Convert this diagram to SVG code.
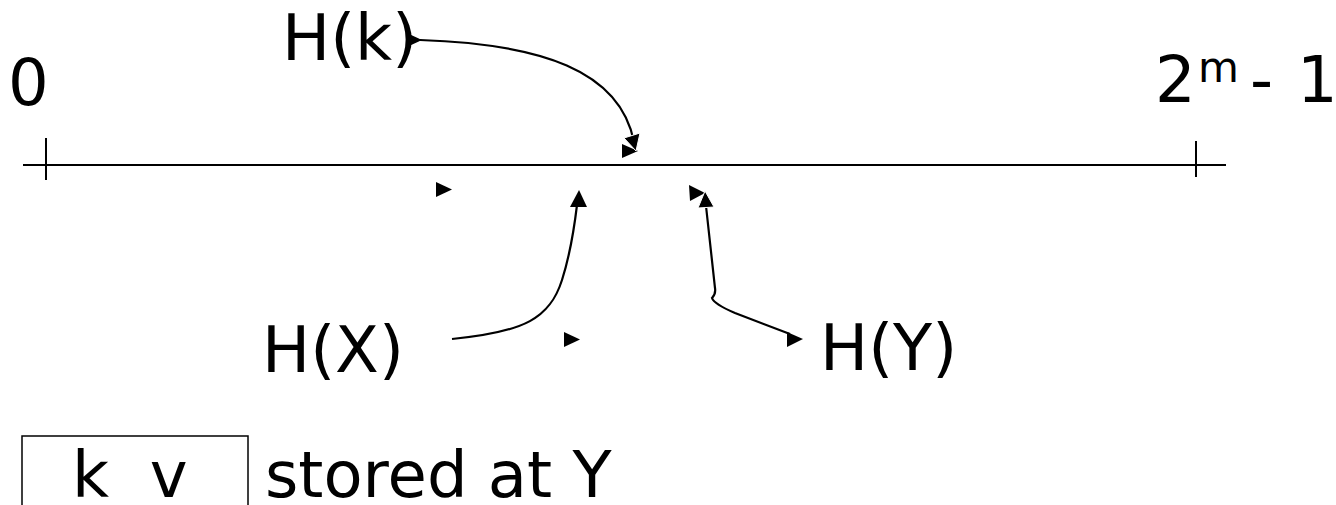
<svg xmlns="http://www.w3.org/2000/svg" width="1336" height="505" viewBox="0 0 1336 505">
  <style>
    .lbl { font-family: "DejaVu Sans", Verdana, sans-serif; font-size: 64px; fill: #000; }
    .sup { font-family: "DejaVu Sans", Verdana, sans-serif; font-size: 42px; fill: #000; }
    .axis { stroke: #000; stroke-width: 2; fill: none; }
    .conn { stroke: #000; stroke-width: 2.2; fill: none; }
    .head { fill: #000; }
    .headcut { fill: #000; stroke: #fff; stroke-width: 1; }
  </style>

  <!-- identifier ring drawn as a line from 0 to 2^m - 1 -->
  <g id="axis">
    <line class="axis" x1="23" y1="165" x2="1226" y2="165"/>
    <line class="axis" x1="46" y1="138" x2="46" y2="180"/>
    <line class="axis" x1="1196" y1="141" x2="1196" y2="177"/>
  </g>

  <g id="label-zero">
    <text class="lbl" x="8" y="105">0</text>
  </g>

  <g id="label-max">
    <text class="lbl" x="1155" y="102">2</text>
    <text class="sup" x="1198" y="82">m</text>
    <text class="lbl" x="1250" y="102">-</text>
    <text class="lbl" x="1297" y="102">1</text>
  </g>

  <g id="node-hk">
    <text class="lbl" x="282" y="60">H(k)</text>
  </g>

  <g id="node-hx">
    <text class="lbl" x="262" y="372">H(X)</text>
  </g>

  <g id="node-hy">
    <text class="lbl" x="820" y="370">H(Y)</text>
  </g>

  <g id="node-kv">
    <rect x="22" y="436" width="226" height="80" fill="none" stroke="#000" stroke-width="1.5"/>
    <text class="lbl" x="72" y="497" style="white-space:pre">k  v</text>
    <text class="lbl" x="265" y="497">stored at Y</text>
  </g>

  <g id="connectors">
    <!-- H(k) to its point on the line -->
    <path class="conn" d="M420,40 C540,44 620,70 634,142"/>
    <polygon class="head" points="409,34 422,40 409,46"/>
    <polygon class="head" points="622,144 638,151 622,158"/>
    <polygon class="headcut" points="636,151 624,138 640,133"/>

    <!-- H(X) up to its point on the line -->
    <path class="conn" d="M452,339 C525,332 550,318 562,280 C570,255 574,230 577,205"/>
    <polygon class="head" points="579,190 570,207 587,207"/>

    <!-- H(Y) up to its point on the line -->
    <path class="conn" d="M706,206 L715,288 Q716,294 712,298 Q714,304 735,313 L790,334"/>
    <polygon class="head" points="787,332 803,339 787,347"/>
    <polygon class="head" points="689,185 705,193 690,201"/>
    <polygon class="headcut" points="705,191 698,208 714,207"/>

    <!-- loose arrowheads along the line -->
    <polygon class="head" points="436,182 452,189.5 436,197"/>
    <polygon class="head" points="564,332 580,339.5 564,347"/>
  </g>
</svg>
